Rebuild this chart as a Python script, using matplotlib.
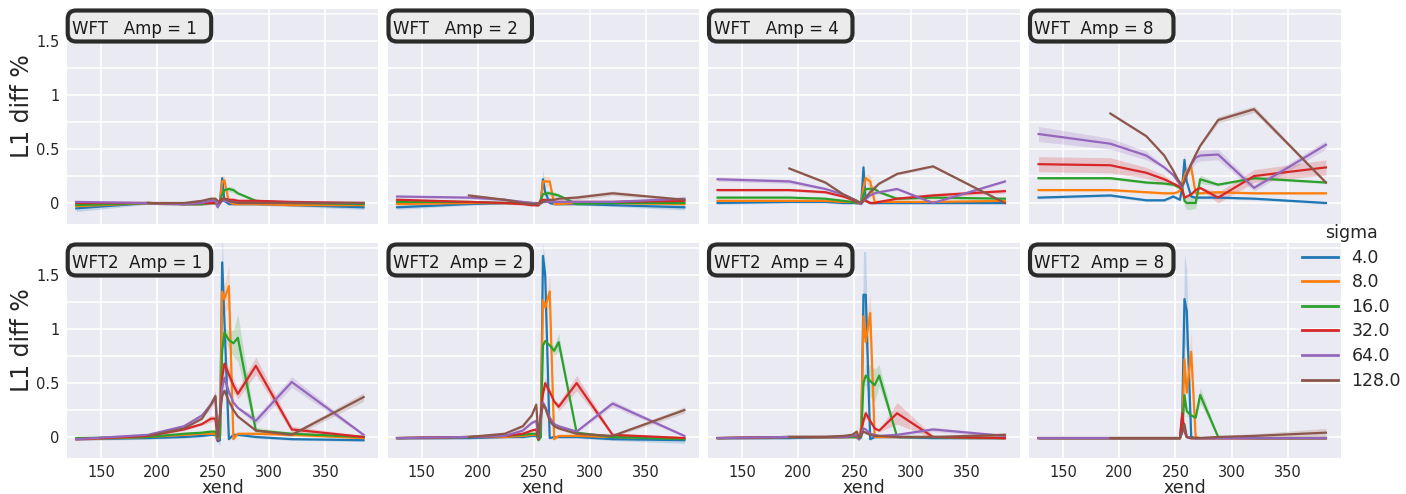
import numpy as np
import matplotlib
matplotlib.use("Agg")
import matplotlib.pyplot as plt
from matplotlib.patches import FancyBboxPatch
from matplotlib.lines import Line2D
from matplotlib.ticker import FixedLocator

nan = np.nan

# ---------------- data ----------------
xend = [128, 192, 224, 240, 248, 252, 254, 256, 258, 260, 264, 268, 272, 288, 320, 384]
sigmas = [4.0, 8.0, 16.0, 32.0, 64.0, 128.0]
methods = ["WFT", "WFT2"]
amps = [1, 2, 4, 8]
titles = [["WFT   Amp = 1", "WFT   Amp = 2", "WFT   Amp = 4", "WFT  Amp = 8"],
          ["WFT2  Amp = 1", "WFT2  Amp = 2", "WFT2  Amp = 4", "WFT2  Amp = 8"]]

# mean L1 diff % per (method, amp) -> per sigma
wft_amp1 = {
    4.0:   [-0.05, 0.0, -0.01, -0.01, 0.0, 0.0, -0.02, 0.0, 0.23, 0.02, -0.01, -0.01, -0.01, -0.01, -0.02, -0.04],
    8.0:   [-0.03, 0.0, -0.01, -0.01, 0.0, 0.0, -0.03, 0.0, 0.20, 0.21, 0.01, -0.01, -0.01, -0.01, -0.02, -0.02],
    16.0:  [-0.02, 0.0, -0.01, -0.01, 0.0, 0.0, -0.02, 0.02, 0.08, 0.12, 0.13, 0.12, 0.09, 0.02, 0.0, -0.01],
    32.0:  [0.0, 0.0, -0.01, 0.0, 0.0, 0.0, -0.02, 0.02, 0.04, 0.04, 0.03, 0.03, 0.02, 0.02, 0.01, 0.0],
    64.0:  [0.01, 0.0, -0.01, 0.0, 0.02, 0.02, -0.04, 0.0, 0.02, 0.02, 0.01, 0.01, 0.0, 0.0, 0.0, 0.0],
    128.0: [nan, 0.0, 0.0, 0.02, 0.04, 0.04, 0.02, 0.0, 0.03, 0.04, 0.02, 0.01, 0.0, 0.0, 0.0, 0.0],
}
wft_amp2 = {
    4.0:   [-0.04, -0.01, 0.0, 0.0, 0.0, -0.02, -0.02, 0.0, 0.22, 0.10, 0.0, -0.01, -0.01, -0.01, -0.02, -0.04],
    8.0:   [-0.01, 0.0, 0.0, 0.0, 0.0, -0.01, -0.02, 0.0, 0.20, 0.20, 0.20, -0.01, -0.01, 0.0, 0.0, -0.01],
    16.0:  [0.01, 0.01, 0.0, 0.0, 0.0, -0.01, -0.01, 0.03, 0.08, 0.09, 0.09, 0.08, 0.07, -0.01, 0.0, 0.0],
    32.0:  [0.03, 0.01, 0.0, -0.01, -0.02, -0.02, -0.02, 0.02, 0.03, 0.03, 0.02, 0.01, 0.01, 0.01, 0.01, 0.02],
    64.0:  [0.06, 0.05, 0.03, 0.01, 0.0, 0.0, -0.01, 0.0, 0.01, 0.01, 0.01, 0.01, 0.01, 0.01, 0.01, 0.04],
    128.0: [nan, 0.07, 0.03, 0.0, -0.01, -0.01, 0.0, 0.0, 0.01, 0.02, 0.03, 0.03, 0.04, 0.05, 0.09, 0.03],
}
wft_amp4 = {
    4.0:   [0.0, 0.01, 0.01, 0.0, 0.0, 0.0, 0.0, 0.0, 0.33, 0.02, 0.0, 0.0, 0.0, 0.0, 0.0, 0.0],
    8.0:   [0.02, 0.02, 0.02, 0.01, 0.01, 0.0, 0.0, 0.0, 0.15, 0.23, 0.20, 0.01, 0.01, 0.01, 0.01, 0.02],
    16.0:  [0.05, 0.05, 0.04, 0.02, 0.01, 0.0, 0.0, 0.0, 0.08, 0.13, 0.13, 0.13, 0.10, 0.04, 0.05, 0.04],
    32.0:  [0.12, 0.12, 0.10, 0.06, 0.03, 0.01, 0.0, 0.0, 0.02, 0.02, 0.0, 0.0, 0.01, 0.04, 0.07, 0.11],
    64.0:  [0.22, 0.20, 0.13, 0.08, 0.04, 0.02, 0.0, -0.01, 0.02, 0.04, 0.07, 0.09, 0.10, 0.13, 0.0, 0.20],
    128.0: [nan, 0.32, 0.19, 0.08, 0.04, 0.02, 0.01, 0.0, 0.03, 0.05, 0.10, 0.14, 0.18, 0.27, 0.34, 0.0],
}
wft_amp8 = {
    4.0:   [0.05, 0.07, 0.025, 0.025, 0.06, 0.04, 0.03, 0.15, 0.40, 0.20, 0.06, 0.05, 0.05, 0.05, 0.04, 0.0],
    8.0:   [0.12, 0.12, 0.10, 0.09, 0.09, 0.10, 0.12, 0.18, 0.25, 0.30, 0.33, 0.09, 0.09, 0.10, 0.09, 0.09],
    16.0:  [0.23, 0.23, 0.19, 0.18, 0.17, 0.15, 0.14, 0.15, 0.02, 0.0, 0.0, 0.0, 0.22, 0.17, 0.23, 0.19],
    32.0:  [0.36, 0.35, 0.28, 0.22, 0.18, 0.16, 0.15, 0.12, 0.05, 0.06, 0.08, 0.12, 0.14, 0.05, 0.25, 0.33],
    64.0:  [0.64, 0.55, 0.44, 0.33, 0.26, 0.20, 0.17, 0.15, 0.20, 0.27, 0.36, 0.42, 0.44, 0.45, 0.14, 0.54],
    128.0: [nan, 0.83, 0.62, 0.44, 0.30, 0.22, 0.19, 0.16, 0.20, 0.26, 0.36, 0.45, 0.53, 0.77, 0.87, 0.19],
}
wft2_amp1 = {
    4.0:   [-0.02, -0.01, 0.0, 0.01, 0.02, 0.02, -0.04, -0.03, 1.62, 1.07, -0.02, 0.02, 0.02, 0.0, -0.02, -0.03],
    8.0:   [-0.02, 0.0, 0.02, 0.03, 0.03, 0.03, -0.03, 0.0, 1.35, 1.28, 1.40, -0.02, 0.03, 0.03, 0.02, -0.01],
    16.0:  [-0.01, 0.0, 0.03, 0.04, 0.05, 0.05, -0.02, 0.0, 0.80, 0.97, 0.90, 0.87, 0.92, 0.06, 0.03, 0.0],
    32.0:  [-0.02, 0.01, 0.07, 0.12, 0.17, 0.17, -0.03, 0.20, 0.55, 0.68, 0.58, 0.48, 0.40, 0.66, 0.07, 0.0],
    64.0:  [-0.02, 0.02, 0.10, 0.20, 0.30, 0.37, -0.02, 0.20, 0.45, 0.55, 0.42, 0.32, 0.27, 0.15, 0.51, 0.02],
    128.0: [nan, 0.01, 0.08, 0.17, 0.30, 0.38, 0.0, 0.20, 0.38, 0.43, 0.33, 0.25, 0.19, 0.06, 0.02, 0.37],
}
wft2_amp2 = {
    4.0:   [-0.01, -0.01, 0.0, 0.0, 0.01, 0.01, -0.02, 0.0, 1.68, 1.50, -0.01, 0.0, 0.0, 0.0, -0.02, -0.03],
    8.0:   [-0.01, 0.0, 0.0, 0.01, 0.02, 0.02, -0.02, 0.10, 1.27, 1.20, 1.35, -0.02, 0.01, 0.01, 0.0, -0.01],
    16.0:  [-0.01, 0.0, 0.01, 0.02, 0.03, 0.03, -0.03, 0.0, 0.85, 0.89, 0.85, 0.80, 0.88, 0.04, 0.0, -0.02],
    32.0:  [-0.01, 0.0, 0.01, 0.03, 0.06, 0.07, -0.02, 0.20, 0.40, 0.50, 0.42, 0.33, 0.28, 0.50, 0.02, -0.01],
    64.0:  [-0.01, 0.0, 0.01, 0.06, 0.13, 0.15, -0.01, 0.15, 0.32, 0.28, 0.18, 0.12, 0.10, 0.05, 0.31, 0.01],
    128.0: [nan, 0.0, 0.03, 0.10, 0.20, 0.30, 0.0, 0.20, 0.30, 0.27, 0.15, 0.10, 0.08, 0.03, 0.01, 0.25],
}
wft2_amp4 = {
    4.0:   [-0.01, -0.01, 0.0, 0.0, 0.0, 0.0, -0.02, 0.0, 1.32, 1.32, -0.02, 0.0, 0.0, 0.0, -0.01, -0.01],
    8.0:   [-0.01, 0.0, 0.0, 0.0, 0.0, 0.0, -0.01, 0.10, 1.12, 0.88, 1.15, 0.0, 0.0, 0.0, 0.0, -0.01],
    16.0:  [-0.01, 0.0, 0.0, 0.0, 0.0, 0.0, -0.01, 0.0, 0.50, 0.57, 0.52, 0.48, 0.57, 0.0, 0.0, -0.01],
    32.0:  [-0.01, 0.0, 0.0, 0.0, 0.01, 0.01, -0.02, 0.05, 0.15, 0.22, 0.15, 0.08, 0.06, 0.22, 0.0, -0.01],
    64.0:  [-0.01, 0.0, 0.0, 0.0, 0.01, 0.02, -0.02, 0.03, 0.08, 0.07, 0.03, 0.02, 0.01, 0.02, 0.07, 0.01],
    128.0: [nan, 0.0, 0.0, 0.01, 0.02, 0.05, -0.01, 0.02, 0.05, 0.04, 0.02, 0.01, 0.01, 0.0, 0.0, 0.02],
}
wft2_amp8 = {
    4.0:   [-0.01, -0.01, -0.01, -0.01, -0.01, -0.01, -0.01, 0.20, 1.28, 1.17, 0.0, -0.01, -0.01, -0.01, -0.01, -0.01],
    8.0:   [-0.01, -0.01, -0.01, -0.01, -0.01, -0.01, -0.01, 0.10, 0.72, 0.41, 0.79, 0.0, -0.01, -0.01, -0.01, -0.01],
    16.0:  [-0.01, -0.01, -0.01, -0.01, -0.01, -0.01, -0.01, 0.05, 0.39, 0.24, 0.20, 0.18, 0.39, 0.0, -0.01, -0.01],
    32.0:  [-0.01, -0.01, -0.01, -0.01, -0.01, -0.01, -0.01, 0.22, 0.05, 0.0, -0.01, -0.01, -0.01, -0.01, -0.01, -0.01],
    64.0:  [-0.01, -0.01, -0.01, -0.01, -0.01, -0.01, -0.01, 0.05, 0.08, 0.0, -0.01, -0.01, -0.01, -0.01, -0.01, -0.01],
    128.0: [nan, -0.01, -0.01, -0.01, -0.01, -0.01, -0.01, 0.05, 0.12, 0.0, -0.01, -0.01, -0.01, 0.0, 0.01, 0.04],
}
means = [[wft_amp1, wft_amp2, wft_amp4, wft_amp8],
         [wft2_amp1, wft2_amp2, wft2_amp4, wft2_amp8]]

# confidence-band half widths: default plus read-off wider spots {xend: halfwidth}
ci_default = 0.012
ci_wide = [
    [  # WFT
        {4.0: {128: 0.03, 258: 0.03, 384: 0.02}, 8.0: {258: 0.05, 260: 0.05}, 16.0: {264: 0.025, 268: 0.025}},
        {4.0: {128: 0.02, 258: 0.10, 384: 0.025}, 8.0: {258: 0.05, 260: 0.05, 264: 0.04},
         16.0: {260: 0.025, 264: 0.025, 268: 0.025}, 128.0: {288: 0.02, 320: 0.02}},
        {4.0: {258: 0.06}, 8.0: {260: 0.04, 264: 0.06}, 16.0: {264: 0.03, 268: 0.03},
         32.0: {320: 0.02, 384: 0.02}, 64.0: {128: 0.02, 192: 0.02}},
        {4.0: {256: 0.03, 258: 0.05}, 8.0: {260: 0.05, 264: 0.06},
         16.0: {258: 0.05, 260: 0.06, 264: 0.06, 268: 0.05, 272: 0.04},
         32.0: {128: 0.07, 192: 0.07, 224: 0.05, 240: 0.04, 288: 0.05, 320: 0.06, 384: 0.07},
         64.0: {128: 0.07, 192: 0.05, 224: 0.04, 264: 0.05, 268: 0.05, 272: 0.05, 288: 0.05, 320: 0.03, 384: 0.04},
         128.0: {288: 0.03, 320: 0.03}},
    ],
    [  # WFT2
        {4.0: {256: 0.05, 258: 0.30, 260: 0.15}, 8.0: {258: 0.15, 260: 0.12, 264: 0.20},
         16.0: {260: 0.05, 264: 0.08, 268: 0.12, 272: 0.22, 288: 0.03},
         32.0: {248: 0.03, 252: 0.03, 260: 0.06, 264: 0.06, 268: 0.06, 272: 0.05, 288: 0.08, 320: 0.03},
         64.0: {248: 0.05, 252: 0.05, 260: 0.08, 288: 0.04, 320: 0.05},
         128.0: {252: 0.05, 320: 0.02, 384: 0.04}},
        {4.0: {258: 0.12, 260: 0.10, 384: 0.03}, 8.0: {258: 0.10, 264: 0.15},
         16.0: {268: 0.05, 272: 0.08}, 32.0: {260: 0.06, 272: 0.04, 288: 0.07},
         64.0: {320: 0.03}, 128.0: {384: 0.03}},
        {4.0: {258: 0.40, 260: 0.40}, 8.0: {258: 0.15, 260: 0.12, 264: 0.20},
         16.0: {260: 0.10, 264: 0.15, 268: 0.15, 272: 0.10}, 32.0: {260: 0.05, 288: 0.10},
         64.0: {320: 0.02}, 128.0: {384: 0.02}},
        {4.0: {258: 0.42, 260: 0.38}, 8.0: {258: 0.25, 264: 0.20},
         16.0: {260: 0.05, 272: 0.07}, 128.0: {320: 0.02, 384: 0.04}},
    ],
]

legend_title = "sigma"
x_label = "xend"
y_label = "L1 diff %"
ytick_vals = [0, 0.5, 1, 1.5]
ytick_labels = ["0", "0.5", "1", "1.5"]
ygrid_minor = [0.25, 0.75, 1.25, 1.75]
xtick_vals = [150, 200, 250, 300, 350]

# ---------------- style / layout ----------------
colors = ["#1f77b4", "#ff7f0e", "#2ca02c", "#d62728", "#9467bd", "#8c564b"]
W, H = 1406, 494
fig = plt.figure(figsize=(W / 100, H / 100), dpi=100)
plt.rcParams["font.family"] = ["DejaVu Sans"]
txt_col = "#262626"

col_left = [66.7, 387.5, 708.0, 1029.0]
row_top = [9.0, 243.0]
ax_w, ax_h = 311.5, 215.0


def fx(px):
    return px / W


def fy(py):
    return 1 - py / H


for r in range(2):
    for c in range(4):
        L, T = col_left[c], row_top[r]
        ax = fig.add_axes([fx(L), fy(T + ax_h), ax_w / W, ax_h / H])
        ax.set_facecolor("#eaeaf2")
        for s in ax.spines.values():
            s.set_visible(False)
        ax.set_xlim(119.5, 397)
        ax.set_ylim(-0.195, 1.80)
        ax.xaxis.set_major_locator(FixedLocator(xtick_vals))
        ax.yaxis.set_major_locator(FixedLocator(ytick_vals))
        ax.yaxis.set_minor_locator(FixedLocator(ygrid_minor))
        ax.grid(True, which="both", color="white", lw=1.1)
        ax.set_axisbelow(True)
        ax.tick_params(which="both", length=0, labelsize=10.5, colors=txt_col, pad=5)
        if c == 0:
            ax.set_yticklabels(ytick_labels)
            ax.set_ylabel(y_label, fontsize=17, color=txt_col)
            ax.yaxis.set_label_coords(-0.106, 0.548)
        else:
            ax.set_yticklabels([])
        if r == 1:
            ax.set_xticklabels([str(v) for v in xtick_vals])
            ax.set_xlabel(x_label, fontsize=12.5, color=txt_col, labelpad=-1)
        else:
            ax.set_xticklabels([])

        data = means[r][c]
        cis = ci_wide[r][c]
        x = np.array(xend, dtype=float)
        for si, sg in enumerate(sigmas):
            y = np.array(data[sg], dtype=float)
            hw = np.array([cis.get(sg, {}).get(xv, ci_default) for xv in xend])
            ax.fill_between(x, y - hw, y + hw, color=colors[si], alpha=0.2, lw=0)
            ax.plot(x, y, color=colors[si], lw=1.6)

        # title box
        bx0, bx1 = L - 1 + 2, L + 146.5 - 2
        by0, by1 = T - 0.5 + 2, T + 34.5 - 2
        box = FancyBboxPatch((fx(bx0), fy(by1)), (bx1 - bx0) / W, (by1 - by0) / H,
                             boxstyle="round,pad=0,rounding_size=0.006",
                             transform=fig.transFigure, fc="#ebebeb", ec="#2b2b2b",
                             lw=3.0, clip_on=False, zorder=5,
                             mutation_aspect=W / H)
        fig.add_artist(box)
        fig.text(fx(L + 5.5), fy(T + 24.5), titles[r][c], fontsize=12, color="#1a1a1a",
                 ha="left", va="baseline", zorder=6)

handles = [Line2D([0], [0], color=colors[i], lw=2.0) for i in range(len(sigmas))]
leg = fig.legend(handles, [str(s) for s in sigmas], title=legend_title,
                 loc="upper left", bbox_to_anchor=(fx(1302), fy(224)),
                 frameon=False, fontsize=12.5, title_fontsize=12.5,
                 handlelength=2.1, handletextpad=0.75, labelspacing=0.38,
                 borderpad=0, borderaxespad=0)
for t in leg.get_texts():
    t.set_color(txt_col)
leg.get_title().set_color(txt_col)

fig.savefig("out.png", dpi=100)
